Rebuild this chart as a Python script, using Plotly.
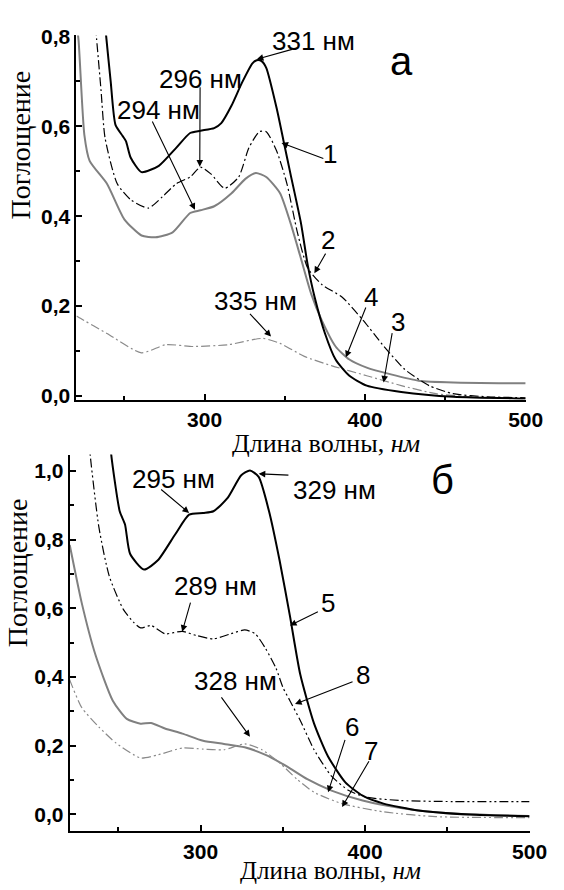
import plotly.graph_objects as go

# ---------------- Panel а (top) ----------------
wl_1 = [236, 238.7, 241.5, 244.5, 249, 251, 254, 260.7, 271.5, 282.3, 291, 297.4, 306, 310.4,
        316.8, 323.3, 329.8, 332.5, 335.5, 338.4, 344.9, 349.2, 353.5, 360, 364.3, 368.6, 375,
        381.6, 390.2, 401, 422.5, 455, 500]
abs_1 = [0.90, 0.80, 0.70, 0.603, 0.578, 0.567, 0.53, 0.498, 0.512, 0.552, 0.585, 0.59, 0.596, 0.607,
         0.646, 0.697, 0.74, 0.747, 0.745, 0.73, 0.64, 0.567, 0.494, 0.385, 0.29, 0.219, 0.139,
         0.081, 0.045, 0.023, 0.009, -0.002, -0.006]

wl_2 = [231, 232.7, 235.5, 238, 245.6, 254.2, 265, 273.7, 282.3, 291, 297.4, 303.9, 312.5, 321.2,
        327.6, 334.1, 338.4, 344.9, 351.3, 357.8, 364.3, 373, 385.9, 398.8, 411.8, 424.7, 439.8,
        454.7, 476.5, 500]
abs_2 = [0.86, 0.795, 0.68, 0.574, 0.472, 0.436, 0.418, 0.443, 0.472, 0.487, 0.509, 0.494, 0.462, 0.487,
         0.552, 0.588, 0.588, 0.545, 0.472, 0.364, 0.284, 0.248, 0.219, 0.168, 0.110, 0.059, 0.023,
         0.005, -0.002, -0.004]

wl_3 = [220.2, 221.5, 239.2, 260.7, 275.9, 293.1, 314.7, 336.2, 347, 362.1, 379.4, 401, 422.5, 444.1, 470, 500]
abs_3 = [0.178, 0.175, 0.139, 0.096, 0.114, 0.110, 0.114, 0.128, 0.117, 0.088, 0.067, 0.045, 0.023, 0.005, -0.003, -0.007]

wl_4 = [220.2, 221.5, 225.1, 228.4, 239.2, 250, 260.7, 269.4, 280.1, 291, 297.4, 306, 316.8, 325.4,
        331.9, 338.4, 347, 353.5, 360, 366.5, 373, 381.6, 390.2, 401, 416.1, 433.3, 455, 500]
abs_4 = [0.83, 0.791, 0.581, 0.523, 0.472, 0.393, 0.357, 0.353, 0.364, 0.407, 0.413, 0.422, 0.451, 0.483,
         0.496, 0.487, 0.451, 0.385, 0.306, 0.226, 0.168, 0.110, 0.081, 0.063, 0.048, 0.034, 0.030, 0.028]

# ---------------- Panel б (bottom) ----------------
wl_5 = [244.5, 245.6, 250.8, 254, 257.1, 265.6, 274, 284.6, 293, 301.5, 307.8, 316.3, 324.7, 330,
        335.3, 341.6, 348, 354.3, 360.6, 369, 377.4, 388, 398.5, 411.2, 432.3, 463.9, 500]
abs_5 = [1.12, 1.05, 0.883, 0.845, 0.759, 0.713, 0.740, 0.816, 0.873, 0.878, 0.883, 0.921, 0.988, 1.002,
         0.983, 0.883, 0.74, 0.578, 0.407, 0.264, 0.169, 0.093, 0.054, 0.031, 0.011, -0.001, -0.006]

wl_8 = [232, 232.9, 238.2, 244.5, 253, 259.3, 263.5, 269.9, 278.3, 288.8, 297.3, 307.8, 318.4, 326.8,
        333.2, 339.5, 345.8, 350.1, 354.3, 360.6, 369, 379.6, 390.1, 400.6, 421.7, 453.4, 500]
abs_8 = [1.10, 1.045, 0.835, 0.693, 0.597, 0.559, 0.543, 0.55, 0.526, 0.533, 0.521, 0.511, 0.526, 0.537,
         0.526, 0.483, 0.426, 0.369, 0.331, 0.273, 0.188, 0.111, 0.069, 0.050, 0.040, 0.037, 0.037]

wl_6 = [220.4, 220.7, 227.7, 236.1, 246.6, 255.1, 263.5, 269.8, 278.3, 288.9, 301.5, 314.2, 326.8,
        339.5, 352.2, 364.9, 379.6, 398.5, 421.7, 453.4, 500]
abs_6 = [0.785, 0.778, 0.616, 0.464, 0.331, 0.278, 0.264, 0.266, 0.25, 0.235, 0.214, 0.205, 0.195,
         0.173, 0.14, 0.102, 0.069, 0.04, 0.018, 0.002, -0.005]

wl_7 = [220.4, 220.7, 227.7, 238.2, 248.7, 263.5, 274, 288.9, 301.5, 314.2, 326.8, 337.3, 348, 358.6,
        369, 385.9, 411.2, 442.8, 500]
abs_7 = [0.392, 0.388, 0.311, 0.254, 0.207, 0.164, 0.173, 0.193, 0.19, 0.188, 0.205, 0.188, 0.15, 0.102,
         0.064, 0.031, 0.007, -0.007, -0.01]

x_tickvals = [300, 400, 500]
x_ticktext = ["300", "400", "500"]
x_minor = [250, 350, 450]
y1_tickvals = [0.0, 0.2, 0.4, 0.6, 0.8]
y1_ticktext = ["0,0", "0,2", "0,4", "0,6", "0,8"]
y1_minor = [0.1, 0.3, 0.5, 0.7]
y2_tickvals = [0.0, 0.2, 0.4, 0.6, 0.8, 1.0]
y2_ticktext = ["0,0", "0,2", "0,4", "0,6", "0,8", "1,0"]
y2_minor = [0.1, 0.3, 0.5, 0.7, 0.9]

W, H = 564, 890
SANS = "Liberation Sans, Arial, sans-serif"
SERIF = "Liberation Serif, Times New Roman, serif"

DASHDOT = "9px,3px,2px,3px"
DASHDOTDOT = "9px,3px,2px,3px,2px,3px"

fig = go.Figure()

def add_line(x, y, xa, ya, color, width, dash):
    fig.add_trace(go.Scatter(x=x, y=y, xaxis=xa, yaxis=ya, mode="lines",
                             line=dict(color=color, width=width, dash=dash, shape="spline", smoothing=0.6),
                             showlegend=False, hoverinfo="skip"))

add_line(wl_4, abs_4, "x", "y", "#808080", 2, "solid")
add_line(wl_3, abs_3, "x", "y", "#8a8a8a", 1.2, DASHDOT)
add_line(wl_2, abs_2, "x", "y", "#000000", 1.2, DASHDOT)
add_line(wl_1, abs_1, "x", "y", "#000000", 2, "solid")

add_line(wl_6, abs_6, "x2", "y2", "#808080", 2, "solid")
add_line(wl_7, abs_7, "x2", "y2", "#8a8a8a", 1.2, DASHDOTDOT)
add_line(wl_8, abs_8, "x2", "y2", "#000000", 1.2, DASHDOTDOT)
add_line(wl_5, abs_5, "x2", "y2", "#000000", 2, "solid")

def axis_x(domain, rng, anchor):
    return dict(domain=domain, range=rng, anchor=anchor, showline=True, linecolor="black", linewidth=2,
                ticks="inside", ticklen=6, tickwidth=1.5, tickcolor="black",
                tickmode="array", tickvals=x_tickvals, ticktext=x_ticktext,
                tickfont=dict(family=SANS, size=21, color="black", weight="bold"),
                minor=dict(tickmode="array", tickvals=x_minor, ticks="inside", ticklen=4, tickwidth=1.5, tickcolor="black"),
                showgrid=False, zeroline=False, fixedrange=True)

def axis_y(domain, rng, anchor, tv, tt, mv):
    return dict(domain=domain, range=rng, anchor=anchor, showline=True, linecolor="black", linewidth=2,
                ticks="inside", ticklen=6, tickwidth=1.5, tickcolor="black",
                tickmode="array", tickvals=tv, ticktext=tt,
                tickfont=dict(family=SANS, size=21, color="black", weight="bold"),
                minor=dict(tickmode="array", tickvals=mv, ticks="inside", ticklen=4, tickwidth=1.5, tickcolor="black"),
                showgrid=False, zeroline=False, fixedrange=True)

fig.update_layout(
    width=W, height=H, margin=dict(l=0, r=0, t=0, b=0),
    paper_bgcolor="white", plot_bgcolor="white", showlegend=False,
    xaxis=axis_x([79 / W, 543 / W], [220.2, 500], "y"),
    yaxis=axis_y([1 - 397 / H, 1 - 25 / H], [-0.008, 0.802], "x", y1_tickvals, y1_ticktext, y1_minor),
    xaxis2=axis_x([72 / W, 547 / W], [220.4, 500], "y2"),
    yaxis2=axis_y([1 - 838.3 / H, 1 - 453.3 / H], [-0.05, 1.048], "x2", y2_tickvals, y2_ticktext, y2_minor),
)

annotations = []

def label(text, x, y, xr, yr, size=26, family=SANS):
    annotations.append(dict(text=text, x=x, y=y, xref=xr, yref=yr, showarrow=False,
                            font=dict(family=family, size=size, color="black"),
                            xanchor="center", yanchor="middle"))

def arrow(tx, ty, hx, hy, xr, yr):
    annotations.append(dict(text="", x=hx, y=hy, ax=tx, ay=ty, xref=xr, yref=yr, axref=xr, ayref=yr,
                            showarrow=True, arrowhead=2, arrowsize=1.2, arrowwidth=1.1,
                            arrowcolor="black", standoff=0, startstandoff=0))

# panel а
label("331 нм", 368, 0.79, "x", "y")
arrow(355.4, 0.772, 332.5, 0.749, "x", "y")
label("а", 422.5, 0.745, "x", "y", size=40)
label("296 нм", 297.5, 0.705, "x", "y")
arrow(297.2, 0.69, 297.0, 0.51, "x", "y")
label("294 нм", 271.5, 0.636, "x", "y")
arrow(267, 0.614, 294, 0.414, "x", "y")
label("1", 378.1, 0.538, "x", "y")
arrow(374.9, 0.527, 347.9, 0.563, "x", "y")
label("2", 377, 0.346, "x", "y")
arrow(375.9, 0.32, 368.4, 0.273, "x", "y")
label("335 нм", 331.7, 0.212, "x", "y")
arrow(327.4, 0.186, 341.4, 0.132, "x", "y")
label("4", 403.5, 0.219, "x", "y")
arrow(400.8, 0.2, 388, 0.086, "x", "y")
label("3", 420.2, 0.165, "x", "y")
arrow(417, 0.143, 411.5, 0.030, "x", "y")

# panel б
label("295 нм", 283.5, 0.978, "x2", "y2")
arrow(275.1, 0.95, 293, 0.878, "x2", "y2")
label("329 нм", 381.7, 0.945, "x2", "y2")
arrow(354.3, 0.988, 335.3, 0.992, "x2", "y2")
label("б", 447.2, 0.973, "x2", "y2", size=40)
label("289 нм", 308.9, 0.664, "x2", "y2")
arrow(294.1, 0.621, 288.8, 0.532, "x2", "y2")
label("5", 377.5, 0.616, "x2", "y2")
arrow(372.2, 0.592, 354.3, 0.55, "x2", "y2")
label("8", 398.6, 0.407, "x2", "y2")
arrow(393.3, 0.388, 357.4, 0.321, "x2", "y2")
label("328 нм", 321.5, 0.388, "x2", "y2")
arrow(312, 0.345, 330, 0.226, "x2", "y2")
label("6", 392.3, 0.254, "x2", "y2")
arrow(388.1, 0.221, 377.5, 0.064, "x2", "y2")
label("7", 403.9, 0.183, "x2", "y2")
arrow(402.9, 0.159, 386, 0.021, "x2", "y2")

# axis titles (paper coordinates)
def ptitle(text, px, py, size, angle=0):
    annotations.append(dict(text=text, x=px / W, y=1 - py / H, xref="paper", yref="paper",
                            showarrow=False, textangle=angle, xanchor="center", yanchor="middle",
                            font=dict(family=SERIF, size=size, color="black")))

ptitle("Поглощение", 21, 137, 28, -90)
ptitle("Поглощение", 18, 574, 28, -90)
ptitle("Длина волны, <i>нм</i>", 337, 442, 26)
ptitle("Длина волны, <i>нм</i>", 341, 878, 25)

fig.update_layout(annotations=annotations)
fig.write_html("out.html")
